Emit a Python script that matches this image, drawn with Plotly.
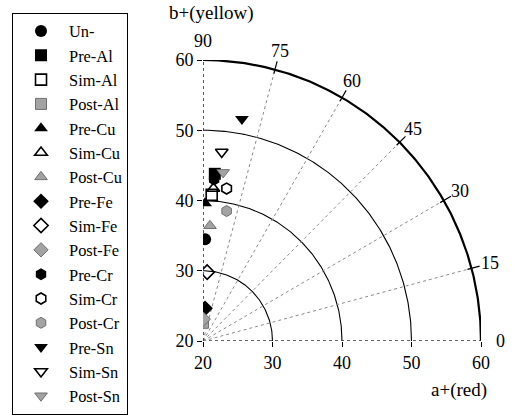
import numpy as np
import plotly.graph_objects as go

# ---- data (CIE a*, b* of samples) ----
names = ["Un-", "Pre-Al", "Sim-Al", "Post-Al", "Pre-Cu", "Sim-Cu", "Post-Cu",
         "Pre-Fe", "Sim-Fe", "Post-Fe", "Pre-Cr", "Sim-Cr", "Post-Cr",
         "Pre-Sn", "Sim-Sn", "Post-Sn"]
a_vals = [20.3, 21.7, 21.25, 20.0, 20.3, 21.5, 21.0,
          20.3, 20.6, 20.05, 21.6, 23.4, 23.4,
          25.6, 22.7, 22.9]
b_vals = [34.5, 43.8, 40.8, 22.6, 39.6, 41.7, 36.4,
          24.65, 29.8, 23.1, 43.0, 41.7, 38.5,
          51.6, 46.9, 44.0]
symbols = ["circle", "square", "square-open", "square",
           "triangle-up", "triangle-up-open", "triangle-up",
           "diamond", "diamond-open", "diamond",
           "hexagon", "hexagon-open", "hexagon",
           "triangle-down", "triangle-down-open", "triangle-down"]
kinds = ["fill", "fill", "open", "grey", "fill", "open", "grey",
         "fill", "open", "grey", "fill", "open", "grey",
         "fill", "open", "grey"]

x_ticks = [20, 30, 40, 50, 60]
y_ticks = [20, 30, 40, 50, 60]
radii = [10, 20, 30, 40]
angles = [0, 15, 30, 45, 60, 75, 90]
origin = (20, 20)

FONT = "Liberation Serif"
fig = go.Figure()

# arcs
t = np.linspace(0, np.pi / 2, 200)
for r in radii:
    fig.add_trace(go.Scatter(
        x=origin[0] + r * np.cos(t), y=origin[1] + r * np.sin(t),
        mode="lines", line=dict(color="black", width=2.2 if r == 40 else 1.1),
        showlegend=False, hoverinfo="skip"))

# radial lines
R = radii[-1]
for ang in angles:
    th = np.deg2rad(ang)
    edge = ang in (0, 90)
    fig.add_trace(go.Scatter(
        x=[origin[0], origin[0] + R * np.cos(th)],
        y=[origin[1], origin[1] + R * np.sin(th)],
        mode="lines",
        line=dict(color="#333333" if edge else "#8a8a8a",
                  width=1.6 if edge else 1, dash="dot"),
        showlegend=False, hoverinfo="skip"))
    if not edge:
        fig.add_trace(go.Scatter(
            x=[origin[0] + (R - 0.6) * np.cos(th), origin[0] + (R + 1.2) * np.cos(th)],
            y=[origin[1] + (R - 0.6) * np.sin(th), origin[1] + (R + 1.2) * np.sin(th)],
            mode="lines", line=dict(color="black", width=1.2),
            showlegend=False, hoverinfo="skip"))
    fig.add_annotation(
        x=origin[0] + R * np.cos(th), y=origin[1] + R * np.sin(th),
        xref="x", yref="y", text=str(ang), showarrow=False,
        xshift=19 * np.cos(th), yshift=19 * np.sin(th),
        font=dict(family=FONT, size=18, color="black"))

# data points
for i, n in enumerate(names):
    k = kinds[i]
    if k == "fill":
        mk = dict(symbol=symbols[i], color="black", size=12,
                  line=dict(color="black", width=0))
    elif k == "open":
        mk = dict(symbol=symbols[i], color="black", size=11,
                  line=dict(color="black", width=1.6))
    else:
        mk = dict(symbol=symbols[i], color="#a3a3a3", size=11,
                  line=dict(color="#6f6f6f", width=1))
    fig.add_trace(go.Scatter(
        x=[a_vals[i]], y=[b_vals[i]], mode="markers", name=n,
        marker=mk, legendgroup=n, showlegend=True))

fig.add_annotation(x=0.03, y=1.0, xref="paper", yref="paper",
                   text="b+(yellow)", showarrow=False, xanchor="center",
                   yanchor="bottom", yshift=34,
                   font=dict(family=FONT, size=19, color="black"))
fig.add_annotation(x=0.92, y=0.0, xref="paper", yref="paper",
                   text="a+(red)", showarrow=False, xanchor="center",
                   yanchor="top", yshift=-36,
                   font=dict(family=FONT, size=19, color="black"))

axis_common = dict(showgrid=False, zeroline=False, showline=False,
                   ticks="outside", ticklen=5, tickcolor="black",
                   tickfont=dict(family=FONT, size=18, color="black"))
fig.update_layout(
    width=514, height=420,
    margin=dict(l=203, r=33, t=60, b=79),
    paper_bgcolor="white", plot_bgcolor="white",
    xaxis=dict(range=[20, 60], tickvals=x_ticks, **axis_common),
    yaxis=dict(range=[20, 60], tickvals=y_ticks, **axis_common),
    legend=dict(x=-0.687, y=1.168, xanchor="left", yanchor="top",
                bordercolor="black", borderwidth=1, bgcolor="white",
                font=dict(family=FONT, size=16.4, color="black"),
                itemwidth=46, tracegroupgap=0, maxheight=418),
    showlegend=True,
)

fig.write_html("out.html")
